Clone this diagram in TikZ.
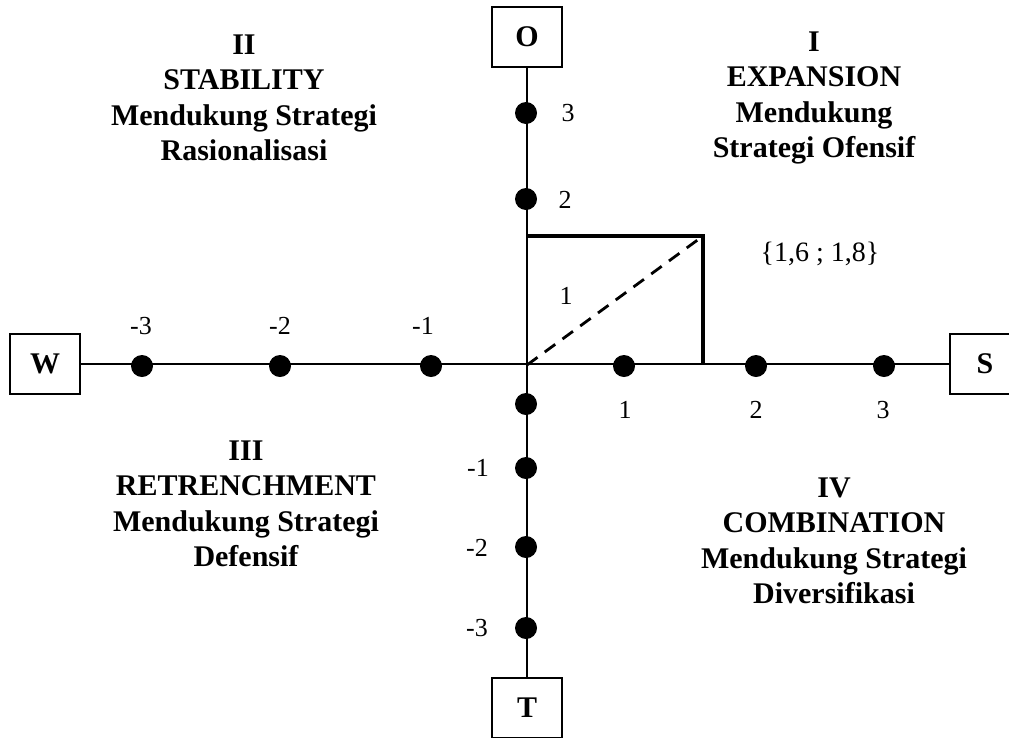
\documentclass[tikz,border=0pt]{standalone}
\usepackage{fontspec}
\setmainfont{Liberation Serif}
\def\quadfont{\fontsize{30}{35.5}\selectfont\bfseries}
\def\numfont{\fontsize{26}{30}\selectfont}
\tikzset{
  axisbox/.style={draw, line width=1.3pt, minimum width=70pt, minimum height=60pt, font=\quadfont},
  quadtext/.style={align=center, font=\quadfont, inner sep=0pt},
  numlabel/.style={font=\numfont, inner sep=0pt},
}
\begin{document}
\begin{tikzpicture}[x=1pt,y=-1pt]
        \useasboundingbox (0,0) rectangle (1009,737);
        \coordinate (c) at (527,365);
        \node[axisbox] (W) at (45,364) {W};
        \node[axisbox] (S) at (985,364) {S};
        \node[axisbox] (O) at (527,37) {O};
        \node[axisbox] (T) at (527,708) {T};
        \draw[line width=1.3pt] (W) -- (S);
        \draw[line width=1.3pt] (O) -- (T);
        % dots on the axes
        \foreach \x in {142,280,431,624,756,884}
          \fill (\x,366) circle (11);
        \foreach \y in {113,199,404,468,547,628}
          \fill (526,\y) circle (11);
        \node[numlabel] at (141,326) {-3};
        \node[numlabel] at (280,326) {-2};
        \node[numlabel] at (423,326) {-1};
        \node[numlabel] at (625,410) {1};
        \node[numlabel] at (756,410) {2};
        \node[numlabel] at (883,410) {3};
        \node[numlabel] at (568,113) {3};
        \node[numlabel] at (565,200) {2};
        \node[numlabel] at (478,468) {-1};
        \node[numlabel] at (477,548) {-2};
        \node[numlabel] at (477,628) {-3};
        % position of the company
        \coordinate (p) at (703,236);
        \draw[line width=4pt] (c |- p) -- (p) -- (p |- c);
        \draw[line width=2.8pt, dash pattern=on 13pt off 9pt] (c) -- (p);
        \node[numlabel] at (566,296) {1};
        \node[numlabel, font=\fontsize{28}{30}\selectfont] (pos) at (820,254) {\{1,6 ; 1,8\}};
        % quadrant labels
        \node[quadtext] (q1) at (814,98) {I\\EXPANSION\\Mendukung\\Strategi Ofensif};
        \node[quadtext] (q2) at (244,98) {II\\STABILITY\\Mendukung Strategi\\Rasionalisasi};
        \node[quadtext] (q3) at (246,504) {III\\RETRENCHMENT\\Mendukung Strategi\\Defensif};
        \node[quadtext] (q4) at (834,541) {IV\\COMBINATION\\Mendukung Strategi\\Diversifikasi};
\end{tikzpicture}
\end{document}
